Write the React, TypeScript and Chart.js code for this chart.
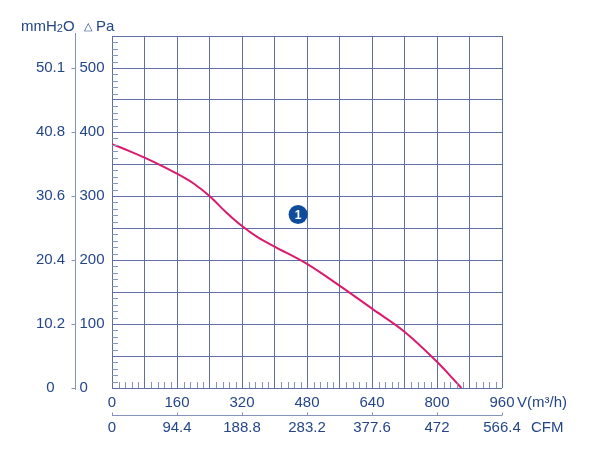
import React, { useEffect, useRef } from 'react';
import { Chart, registerables } from 'chart.js';

Chart.register(...registerables);

// Fan curve: airflow V (m³/h) vs static pressure (Pa)
const flowV = [0, 40, 80, 120, 160, 200, 240, 280, 320, 360, 400, 480, 560, 640, 720, 800, 830, 860];
const pressurePa = [381, 371, 360, 348, 335, 320, 300, 275, 253, 235, 221, 194, 160, 124, 88, 41, 21, 0];

// Axis tick labels
const paTicks = [0, 100, 200, 300, 400, 500];
const mmTicks = ['0', '10.2', '20.4', '30.6', '40.8', '50.1'];
const vTicks = [0, 160, 320, 480, 640, 800, 960];
const cfmTicks = ['0', '94.4', '188.8', '283.2', '377.6', '472', '566.4'];

// Curve marker
const curveLabel = '1';
const curveLabelV = 458;
const curveLabelPa = 271;

const TEXT = '#244689';
const GRID = '#5f6fa3';
const LIGHT = '#8593bb';
const FONT = '"Liberation Sans", Arial, Helvetica, sans-serif';

const decorPlugin = {
  id: 'decor',
  afterDraw(chart: any) {
    const { ctx, chartArea: ca, scales } = chart;
    const x = scales.x;
    const y = scales.y;
    ctx.save();

    // minor ticks on left edge
    ctx.strokeStyle = LIGHT;
    ctx.lineWidth = 1;
    for (let v = 0; v <= 550; v += 10) {
      if (v % 50 === 0) continue;
      const py = Math.round(y.getPixelForValue(v)) + 0.5;
      ctx.beginPath();
      ctx.moveTo(ca.left, py);
      ctx.lineTo(ca.left + 6, py);
      ctx.stroke();
    }
    // minor ticks on bottom edge
    for (let v = 0; v <= 960; v += 16) {
      if (v % 80 === 0) continue;
      const px = Math.round(x.getPixelForValue(v)) + 0.5;
      ctx.beginPath();
      ctx.moveTo(px, ca.bottom);
      ctx.lineTo(px, ca.bottom - 6);
      ctx.stroke();
    }

    // left Pa axis line
    const axisX = Math.round(ca.left - 37) + 0.5;
    ctx.strokeStyle = LIGHT;
    ctx.beginPath();
    ctx.moveTo(axisX, ca.top - 3);
    ctx.lineTo(axisX, ca.bottom + 2);
    ctx.stroke();

    ctx.fillStyle = TEXT;
    ctx.font = `15px ${FONT}`;
    ctx.textBaseline = 'middle';
    paTicks.forEach((v, i) => {
      const py = y.getPixelForValue(v);
      ctx.strokeStyle = LIGHT;
      ctx.beginPath();
      ctx.moveTo(axisX - 4, Math.round(py) + 0.5);
      ctx.lineTo(axisX, Math.round(py) + 0.5);
      ctx.stroke();
      ctx.textAlign = 'left';
      ctx.fillText(String(v), axisX + 4, py);
      ctx.textAlign = 'center';
      ctx.fillText(mmTicks[i], axisX - 25, py);
    });

    // header units
    const hy = ca.top - 9;
    ctx.textAlign = 'left';
    let hx = 21;
    ctx.font = `15px ${FONT}`;
    ctx.fillText('mmH', hx, hy);
    hx += ctx.measureText('mmH').width;
    ctx.font = `11px ${FONT}`;
    ctx.fillText('2', hx, hy + 2);
    hx += ctx.measureText('2').width;
    ctx.font = `15px ${FONT}`;
    ctx.fillText('O', hx, hy);
    ctx.font = `11px ${FONT}`;
    ctx.fillText('△', 84, hy);
    ctx.font = `15px ${FONT}`;
    ctx.fillText('Pa', 96, hy);

    // bottom V axis labels
    const vy = ca.bottom + 15;
    ctx.textAlign = 'center';
    vTicks.forEach((v) => {
      ctx.fillText(String(v), x.getPixelForValue(v), vy);
    });
    ctx.textAlign = 'left';
    ctx.fillText('V(m³/h)', ca.right + 15, vy);

    // separator line with ticks
    const sy = Math.round(ca.bottom + 27) + 0.5;
    ctx.strokeStyle = LIGHT;
    ctx.beginPath();
    ctx.moveTo(ca.left, sy);
    ctx.lineTo(ca.right, sy);
    ctx.stroke();
    vTicks.forEach((v) => {
      const px = Math.round(x.getPixelForValue(v)) + 0.5;
      ctx.beginPath();
      ctx.moveTo(px, sy);
      ctx.lineTo(px, sy - 3);
      ctx.stroke();
    });

    // CFM labels
    const cy = ca.bottom + 40;
    ctx.textAlign = 'center';
    vTicks.forEach((v, i) => {
      ctx.fillText(cfmTicks[i], x.getPixelForValue(v), cy);
    });
    ctx.textAlign = 'left';
    ctx.fillText('CFM', ca.right + 29, cy);

    // curve marker
    const mx = x.getPixelForValue(curveLabelV);
    const my = y.getPixelForValue(curveLabelPa);
    ctx.fillStyle = '#0f4c9c';
    ctx.beginPath();
    ctx.arc(mx, my, 9.5, 0, Math.PI * 2);
    ctx.fill();
    ctx.fillStyle = '#ffffff';
    ctx.font = `bold 12px ${FONT}`;
    ctx.textAlign = 'center';
    ctx.fillText(curveLabel, mx, my + 1);

    ctx.restore();
  },
};

export default function App() {
  const ref = useRef<HTMLCanvasElement | null>(null);
  useEffect(() => {
    if (!ref.current) return;
    const chart = new Chart(ref.current, {
      type: 'line',
      data: {
        datasets: [
          {
            data: flowV.map((v, i) => ({ x: v, y: pressurePa[i] })),
            borderColor: '#d81b6e',
            borderWidth: 2,
            pointRadius: 0,
            fill: false,
            cubicInterpolationMode: 'monotone',
          },
        ],
      },
      options: {
        animation: false,
        responsive: false,
        devicePixelRatio: 1,
        layout: { padding: { left: 112, top: 36, right: 108, bottom: 85 } },
        plugins: { legend: { display: false }, tooltip: { enabled: false } },
        scales: {
          x: {
            type: 'linear',
            min: 0,
            max: 960,
            ticks: { display: false, stepSize: 80 },
            grid: { color: GRID, lineWidth: 1, drawTicks: false },
            border: { display: false },
            afterFit: (s: any) => { s.height = 0; },
          },
          y: {
            type: 'linear',
            min: 0,
            max: 550,
            ticks: { display: false, stepSize: 50 },
            grid: { color: GRID, lineWidth: 1, drawTicks: false },
            border: { display: false },
            afterFit: (s: any) => { s.width = 0; },
          },
        },
      },
      plugins: [decorPlugin],
    } as any);
    return () => chart.destroy();
  }, []);
  return (
    <div style={{ position: 'fixed', left: 0, top: 0, width: 610, height: 473, background: '#fff' }}>
      <canvas ref={ref} width={610} height={473} style={{ width: 610, height: 473, display: 'block' }} />
    </div>
  );
}
